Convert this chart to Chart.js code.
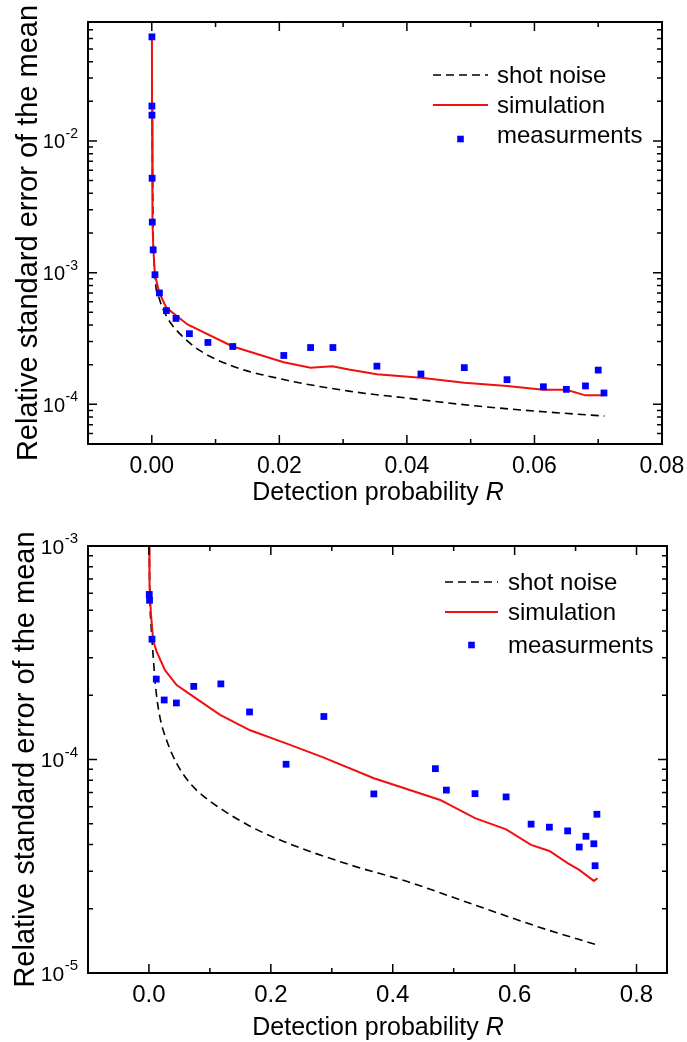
<!DOCTYPE html>
<html>
<head>
<meta charset="utf-8">
<script src="https://cdn.jsdelivr.net/npm/chart.js@4.4.1/dist/chart.umd.min.js"></script>
<style>
	body { margin: 0; background: #fff; }
	canvas { display: block; }
</style>
</head>
<body>
<canvas id="topChart" width="687" height="520"></canvas>
<canvas id="bottomChart" width="687" height="522"></canvas>
<script>
// ---- top panel data (R, relative standard error) ----
const topShotR = [0.00005, 0.0002, 0.0005, 0.0012, 0.0025, 0.0045, 0.0075, 0.0127, 0.0205, 0.0309, 0.0397, 0.0502, 0.0606, 0.0710];
const topShotErr = [0.0157, 0.0024, 0.00095, 0.00063, 0.00045, 0.00034, 0.000257, 0.000195, 0.000155, 0.000126, 0.000112, 0.000098, 0.0000885, 0.0000815];

const topSimR = [0.00002, 0.00004, 0.00008, 0.00015, 0.00025, 0.0005, 0.0012, 0.0023, 0.0056, 0.0127, 0.0207, 0.0249, 0.0283, 0.0309, 0.0353, 0.0422, 0.0490, 0.0557, 0.0614, 0.0650, 0.0680, 0.0709];
const topSimErr = [0.0617, 0.0184, 0.0052, 0.0024, 0.0015, 0.00096, 0.0007, 0.00054, 0.000404, 0.000275, 0.000209, 0.00019, 0.000195, 0.000184, 0.000169, 0.000159, 0.000146, 0.000138, 0.000129, 0.000129, 0.000117, 0.000117];

const topMeasR = [0.00002, 0.00002, 0.00003, 0.00005, 0.00008, 0.00022, 0.0005, 0.0012, 0.0023, 0.0038, 0.0059, 0.0088, 0.0127, 0.0207, 0.0249, 0.0284, 0.0353, 0.0422, 0.0490, 0.0557, 0.0614, 0.0650, 0.0680, 0.0700, 0.0709];
const topMeasErr = [0.0617, 0.0184, 0.0157, 0.00521, 0.00242, 0.00149, 0.000964, 0.000701, 0.000515, 0.000449, 0.000344, 0.000295, 0.000275, 0.000235, 0.00027, 0.00027, 0.000195, 0.00017, 0.00019, 0.000154, 0.000136, 0.00013, 0.000138, 0.000182, 0.000122];

// ---- bottom panel data ----
const botShotR = [0.0004, 0.0016, 0.0033, 0.007, 0.0115, 0.018, 0.029, 0.0455, 0.0674, 0.0948, 0.122, 0.166, 0.221, 0.330, 0.424, 0.533, 0.643, 0.733];
const botShotErr = [0.001, 0.00056, 0.000434, 0.000303, 0.000211, 0.000158, 0.000123, 0.0000959, 0.0000774, 0.0000655, 0.0000578, 0.0000487, 0.0000413, 0.0000321, 0.0000268, 0.0000209, 0.0000163, 0.0000136];

const botSimR = [0.0005, 0.001, 0.0033, 0.007, 0.0126, 0.0263, 0.0455, 0.073, 0.1167, 0.166, 0.225, 0.287, 0.369, 0.478, 0.488, 0.535, 0.586, 0.627, 0.657, 0.687, 0.706, 0.730, 0.736];
const botSimErr = [0.00099, 0.00065, 0.00048, 0.00036, 0.00032, 0.000262, 0.000223, 0.000197, 0.000162, 0.000137, 0.000119, 0.000102, 0.0000817, 0.0000646, 0.0000624, 0.0000531, 0.0000471, 0.0000398, 0.0000373, 0.0000327, 0.0000304, 0.000027, 0.0000278];

const botMeasR = [0.0005, 0.001, 0.005, 0.012, 0.025, 0.045, 0.0735, 0.118, 0.165, 0.225, 0.287, 0.369, 0.470, 0.488, 0.535, 0.586, 0.627, 0.657, 0.687, 0.706, 0.717, 0.730, 0.732, 0.735];
const botMeasErr = [0.000593, 0.000557, 0.000366, 0.000238, 0.00019, 0.000184, 0.00022, 0.000226, 0.000167, 0.000095, 0.000159, 0.000069, 0.0000906, 0.0000719, 0.0000692, 0.0000668, 0.0000498, 0.0000482, 0.0000463, 0.0000389, 0.0000437, 0.0000403, 0.0000318, 0.0000554];

// ---- ticks / labels ----
const topXTicks = [-0.01, 0.00, 0.01, 0.02, 0.03, 0.04, 0.05, 0.06, 0.07, 0.08];
const topXLabels = ['', '0.00', '', '0.02', '', '0.04', '', '0.06', '', '0.08'];
const topYDecades = [1e-4, 1e-3, 1e-2];
const topYExp = ['-4', '-3', '-2'];

const botXTicks = [-0.1, 0.0, 0.1, 0.2, 0.3, 0.4, 0.5, 0.6, 0.7, 0.8];
const botXLabels = ['', '0.0', '', '0.2', '', '0.4', '', '0.6', '', '0.8'];
const botYDecades = [1e-5, 1e-4, 1e-3];
const botYExp = ['-5', '-4', '-3'];

const seriesNames = ['shot noise', 'simulation', 'measurments'];
const yTitle = 'Relative standard error of the mean';
const xTitle = 'Detection probability ';
const xTitleVar = 'R';

const RED = '#f01010';
const BLUE = '#0000ff';
const FONT = "'Liberation Sans', Arial, sans-serif";

function pts(xs, ys) {
	return xs.map((x, i) => ({ x: x, y: ys[i] }));
}

function makeDatasets(shotR, shotE, simR, simE, measR, measE) {
	return [
		{ label: seriesNames[0], data: pts(shotR, shotE), showLine: true, borderColor: '#000', borderWidth: 1.6, borderDash: [8, 5], cubicInterpolationMode: 'monotone', pointRadius: 0, order: 3 },
		{ label: seriesNames[1], data: pts(simR, simE), showLine: true, borderColor: RED, borderWidth: 2, pointRadius: 0, order: 2 },
		{ label: seriesNames[2], data: pts(measR, measE), showLine: false, pointStyle: 'rect', pointRadius: 4.8, pointBorderWidth: 0, pointBackgroundColor: BLUE, backgroundColor: BLUE, borderColor: BLUE, order: 1 }
	];
}

// inward ticks on all four sides, frame, tick labels, titles and legend
const axesFrame = {
	id: 'axesFrame',
	afterDraw(chart, args, o) {
		const { ctx, chartArea: a } = chart;
		const xs = chart.scales.x, ys = chart.scales.y;
		ctx.save();
		ctx.strokeStyle = '#000';
		ctx.fillStyle = '#000';
		ctx.lineWidth = 1.5;
		ctx.beginPath();
		xs.ticks.forEach(t => {
			const px = xs.getPixelForValue(t.value);
			const len = t.lbl ? 9 : 5;
			ctx.moveTo(px, a.bottom); ctx.lineTo(px, a.bottom - len);
			ctx.moveTo(px, a.top); ctx.lineTo(px, a.top + len);
		});
		ys.ticks.forEach(t => {
			const py = ys.getPixelForValue(t.value);
			const len = t.big ? 9 : 5;
			ctx.moveTo(a.left, py); ctx.lineTo(a.left + len, py);
			ctx.moveTo(a.right, py); ctx.lineTo(a.right - len, py);
		});
		ctx.stroke();
		ctx.lineWidth = 2;
		ctx.strokeRect(a.left, a.top, a.right - a.left, a.bottom - a.top);

		// x tick labels
		ctx.font = o.xFont + 'px ' + FONT;
		ctx.textAlign = 'center';
		ctx.textBaseline = 'alphabetic';
		xs.ticks.forEach(t => {
			if (t.lbl) ctx.fillText(t.lbl, xs.getPixelForValue(t.value), o.xLabelBase);
		});

		// y tick labels 10^n
		ys.ticks.forEach(t => {
			if (!t.big) return;
			const py = ys.getPixelForValue(t.value);
			ctx.font = o.expFont + 'px ' + FONT;
			ctx.textAlign = 'right';
			ctx.fillText(t.exp, o.yLabelRight, py - 3);
			const ew = ctx.measureText(t.exp).width;
			ctx.font = o.yFont + 'px ' + FONT;
			ctx.fillText('10', o.yLabelRight - ew - 0.5, py + 7.5);
		});

		// x title with italic R
		ctx.font = o.titleXFont + 'px ' + FONT;
		const w1 = ctx.measureText(xTitle).width;
		ctx.font = 'italic ' + o.titleXFont + 'px ' + FONT;
		const w2 = ctx.measureText(xTitleVar).width;
		const x0 = o.xTitleCenter - (w1 + w2) / 2;
		ctx.textAlign = 'left';
		ctx.font = o.titleXFont + 'px ' + FONT;
		ctx.fillText(xTitle, x0, o.xTitleBase);
		ctx.font = 'italic ' + o.titleXFont + 'px ' + FONT;
		ctx.fillText(xTitleVar, x0 + w1, o.xTitleBase);

		// y title
		ctx.save();
		ctx.translate(o.yTitleBase, (a.top + a.bottom) / 2);
		ctx.rotate(-Math.PI / 2);
		ctx.textAlign = 'center';
		ctx.font = o.titleYFont + 'px ' + FONT;
		ctx.fillText(yTitle, 0, 0);
		ctx.restore();

		// legend
		const lg = o.legend;
		chart.data.datasets.forEach((ds, i) => {
			const row = lg.rows[i];
			ctx.save();
			if (ds.showLine) {
				ctx.strokeStyle = ds.borderColor;
				ctx.lineWidth = ds.borderWidth;
				ctx.setLineDash(ds.borderDash || []);
				ctx.beginPath();
				ctx.moveTo(lg.x0, row.mark);
				ctx.lineTo(lg.x1, row.mark);
				ctx.stroke();
			} else {
				ctx.fillStyle = ds.pointBackgroundColor;
				ctx.fillRect((lg.x0 + lg.x1) / 2 - 3.3, row.mark - 3.3, 6.6, 6.6);
			}
			ctx.restore();
			ctx.font = lg.font + 'px ' + FONT;
			ctx.textAlign = 'left';
			ctx.fillText(ds.label, lg.textX, row.text);
		});
		ctx.restore();
	}
};

function yTicks(decades, exps) {
	return scale => {
		const list = [];
		decades.forEach((d, i) => {
			list.push({ value: d, big: true, exp: exps[i] });
			for (let m = 2; m <= 9; m++) {
				const v = m * d;
				if (v <= scale.max * 1.0001) list.push({ value: v, big: false });
			}
			for (let m = 2; m <= 9; m++) {
				const v = m * d / 10;
				if (i === 0 && v >= scale.min * 0.9999) list.push({ value: v, big: false });
			}
		});
		scale.ticks = list;
	};
}

function xTicks(values, labels) {
	return scale => {
		scale.ticks = values.map((v, i) => ({ value: v, lbl: labels[i] }));
	};
}

function makeChart(id, datasets, cfg) {
	return new Chart(document.getElementById(id), {
		type: 'scatter',
		data: { datasets: datasets },
		options: {
			responsive: false,
			animation: false,
			layout: { padding: cfg.padding },
			plugins: {
				legend: { display: false },
				tooltip: { enabled: false },
				axesFrame: cfg.frame
			},
			scales: {
				x: {
					type: 'linear',
					min: cfg.xMin,
					max: cfg.xMax,
					grid: { display: false },
					border: { display: false },
					ticks: { display: false },
					afterBuildTicks: xTicks(cfg.xTicks, cfg.xLabels),
					afterFit: scale => { scale.height = cfg.xHeight; }
				},
				y: {
					type: 'logarithmic',
					min: cfg.yMin,
					max: cfg.yMax,
					grid: { display: false },
					border: { display: false },
					ticks: { display: false },
					afterBuildTicks: yTicks(cfg.yDecades, cfg.yExp),
					afterFit: scale => { scale.width = 88; }
				}
			}
		},
		plugins: [axesFrame]
	});
}

makeChart('topChart',
	makeDatasets(topShotR, topShotErr, topSimR, topSimErr, topMeasR, topMeasErr),
	{
		padding: { top: 22, right: 25, left: 0, bottom: 0 },
		xMin: -0.01, xMax: 0.08, yMin: 5e-5, yMax: 0.08,
		xTicks: topXTicks, xLabels: topXLabels, yDecades: topYDecades, yExp: topYExp,
		xHeight: 76,
		frame: {
			xFont: 23, xLabelBase: 473, yFont: 20, expFont: 14, yLabelRight: 78,
			titleXFont: 25, xTitleBase: 500, xTitleCenter: 378,
			titleYFont: 29, yTitleBase: 36.5,
			legend: { x0: 433, x1: 488, textX: 497, font: 24, rows: [{ mark: 75, text: 83 }, { mark: 105, text: 113 }, { mark: 139, text: 143 }] }
		}
	});

makeChart('bottomChart',
	makeDatasets(botShotR, botShotErr, botSimR, botSimErr, botMeasR, botMeasErr),
	{
		padding: { top: 26, right: 20, left: 0, bottom: 0 },
		xMin: -0.1, xMax: 0.85, yMin: 1e-5, yMax: 1e-3,
		xTicks: botXTicks, xLabels: botXLabels, yDecades: botYDecades, yExp: botYExp,
		xHeight: 69,
		frame: {
			xFont: 24, xLabelBase: 482, yFont: 21, expFont: 15, yLabelRight: 78,
			titleXFont: 25, xTitleBase: 515, xTitleCenter: 378,
			titleYFont: 29, yTitleBase: 34,
			legend: { x0: 445, x1: 498, textX: 508, font: 24, rows: [{ mark: 62, text: 70 }, { mark: 92, text: 100 }, { mark: 125, text: 133 }] }
		}
	});
</script>
</body>
</html>
